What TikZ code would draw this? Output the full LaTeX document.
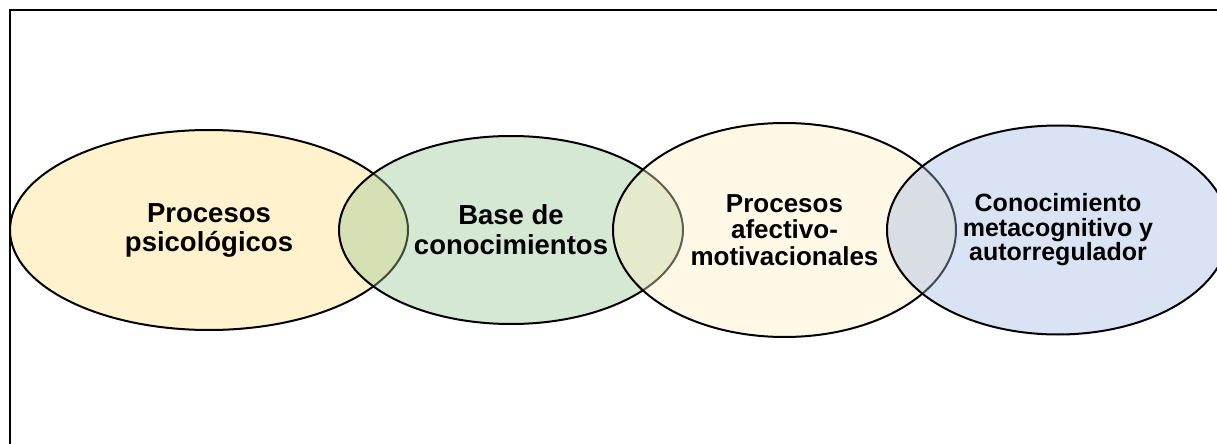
\documentclass[tikz,border=0pt]{standalone}
\usepackage{fontspec}
\setmainfont{Liberation Sans}
\usepackage{tikz}
\usetikzlibrary{shapes}
\definecolor{amarillo}{RGB}{255,222,127}
\definecolor{verde}{RGB}{150,197,147}
\definecolor{crema}{RGB}{255,237,192}
\definecolor{azul}{RGB}{162,185,225}
\tikzstyle{bloque} = [ellipse, draw=black, line width=1pt, fill opacity=0.4, text opacity=1, align=center, inner sep=0pt]

\begin{document}
\begin{tikzpicture}[x=0.5pt, y=-0.5pt]
		\useasboundingbox (0,0) rectangle (1217,444);
		\clip (0,0) rectangle (1217,444);
		\draw [line width=1pt] (10,10) rectangle (1240,470);
		
		\node [bloque, fill=amarillo, minimum width=199pt, minimum height=100pt, font=\fontsize{13.75}{14.5}\selectfont\bfseries] (psico) at (209,230) {Procesos\\psicológicos};
		\node [bloque, fill=verde, right of=psico, node distance=151pt, minimum width=172pt, minimum height=94pt, font=\fontsize{13.75}{15}\selectfont\bfseries] (base) {Base de\\conocimientos};
		\node [bloque, fill=crema, right of=base, node distance=136.75pt, minimum width=171.5pt, minimum height=107pt, font=\fontsize{13}{13.25}\selectfont\bfseries] (afect) {Procesos\\afectivo-\\motivacionales};
		\node [bloque, fill=azul, right of=afect, node distance=136.75pt, minimum width=171pt, minimum height=104.5pt, font=\fontsize{12.5}{12.25}\selectfont\bfseries] (meta) {Conocimiento\\metacognitivo y\\autorregulador};
		
\end{tikzpicture}
\end{document}
